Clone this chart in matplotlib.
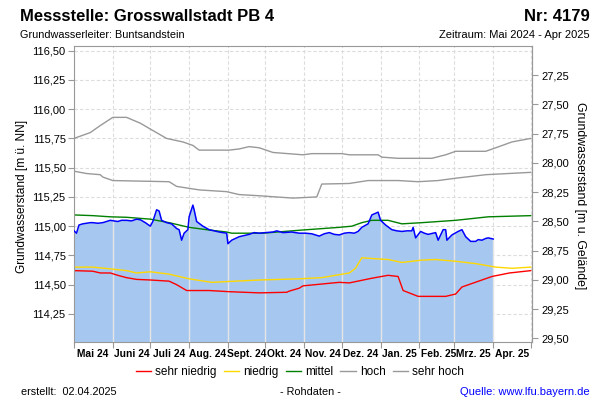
import numpy as np
import pandas as pd
import matplotlib
matplotlib.use('Agg')
import matplotlib.pyplot as plt
import matplotlib.dates as mdates
from matplotlib.ticker import FuncFormatter, FixedLocator
from matplotlib.lines import Line2D

plt.rcParams['font.family'] = ['Liberation Sans', 'DejaVu Sans']

# ground level (m ü. NN) used for the right axis (m u. Gelände)
ground = 143.54

# measured water level (Rohdaten)
level_dates = ['2024-05-01', '2024-05-02', '2024-05-03', '2024-05-05', '2024-05-08', '2024-05-11',
               '2024-05-14', '2024-05-16', '2024-05-20', '2024-05-24', '2024-05-27', '2024-05-30',
               '2024-06-02', '2024-06-05', '2024-06-08', '2024-06-12', '2024-06-16', '2024-06-20',
               '2024-06-23', '2024-06-27', '2024-07-01', '2024-07-03', '2024-07-06', '2024-07-08',
               '2024-07-10', '2024-07-14', '2024-07-18', '2024-07-22', '2024-07-24', '2024-07-26',
               '2024-07-28', '2024-07-31', '2024-08-01', '2024-08-04', '2024-08-05', '2024-08-07',
               '2024-08-12', '2024-08-17', '2024-08-21', '2024-08-25', '2024-08-31', '2024-09-01',
               '2024-09-04', '2024-09-10', '2024-09-14', '2024-09-18', '2024-09-22', '2024-09-26',
               '2024-10-01', '2024-10-07', '2024-10-10', '2024-10-15', '2024-10-22', '2024-10-28',
               '2024-11-02', '2024-11-07', '2024-11-13', '2024-11-17', '2024-11-21', '2024-11-25',
               '2024-11-29', '2024-12-03', '2024-12-07', '2024-12-11', '2024-12-14', '2024-12-17',
               '2024-12-22', '2024-12-25', '2024-12-28', '2024-12-30', '2025-01-01', '2025-01-05',
               '2025-01-10', '2025-01-14', '2025-01-18', '2025-01-22', '2025-01-26', '2025-01-27',
               '2025-01-29', '2025-02-02', '2025-02-05', '2025-02-08', '2025-02-14', '2025-02-16',
               '2025-02-20', '2025-02-22', '2025-02-23', '2025-02-27', '2025-03-04', '2025-03-07',
               '2025-03-10', '2025-03-14', '2025-03-18', '2025-03-20', '2025-03-23', '2025-03-26',
               '2025-03-28', '2025-04-01']
level_values = [114.96, 114.95, 114.94, 115.01, 115.02, 115.025,
                115.03, 115.03, 115.025, 115.03, 115.04, 115.05,
                115.045, 115.04, 115.05, 115.05, 115.045, 115.06,
                115.055, 115.03, 115.00, 115.04, 115.14, 115.13,
                115.05, 115.03, 115.02, 114.98, 114.97, 114.88,
                114.94, 114.97, 115.08, 115.18, 115.14, 115.04,
                115.00, 114.97, 114.96, 114.95, 114.94, 114.85,
                114.88, 114.91, 114.92, 114.93, 114.945, 114.94,
                114.945, 114.95, 114.96, 114.945, 114.95, 114.94,
                114.94, 114.935, 114.915, 114.935, 114.945, 114.93,
                114.925, 114.94, 114.945, 114.94, 114.955, 114.99,
                115.02, 115.096, 115.11, 115.12, 115.05, 115.01,
                114.97, 114.96, 114.955, 114.96, 114.96, 114.99,
                114.90, 114.955, 114.94, 114.93, 114.945, 114.88,
                114.97, 114.97, 114.88, 114.925, 114.955, 114.97,
                114.91, 114.87, 114.87, 114.885, 114.88, 114.895,
                114.90, 114.89]

# reference lines
sehr_hoch_dates = ['2024-05-01', '2024-05-14', '2024-05-22', '2024-06-01', '2024-06-12', '2024-06-23',
                   '2024-07-01', '2024-07-14', '2024-07-27', '2024-08-04', '2024-08-09', '2024-09-02',
                   '2024-09-10', '2024-09-18', '2024-09-26', '2024-10-07', '2024-10-31', '2024-11-07',
                   '2024-12-01', '2024-12-07', '2024-12-30', '2025-01-02', '2025-01-15', '2025-02-11',
                   '2025-02-22', '2025-03-02', '2025-03-26', '2025-04-03', '2025-04-16', '2025-05-01']
sehr_hoch_values = [115.75, 115.80, 115.86, 115.93, 115.93, 115.88,
                    115.83, 115.75, 115.72, 115.69, 115.65, 115.65,
                    115.66, 115.68, 115.67, 115.63, 115.61, 115.62,
                    115.62, 115.61, 115.61, 115.59, 115.58, 115.58,
                    115.61, 115.64, 115.64, 115.67, 115.72, 115.75]

hoch_dates = ['2024-05-01', '2024-05-11', '2024-05-22', '2024-05-24', '2024-06-01', '2024-06-23',
              '2024-07-16', '2024-07-22', '2024-08-09', '2024-08-31', '2024-09-10', '2024-09-26',
              '2024-10-23', '2024-11-11', '2024-11-15', '2024-12-07', '2024-12-22', '2025-01-15',
              '2025-01-31', '2025-02-16', '2025-03-02', '2025-03-26', '2025-05-01']
hoch_values = [115.47, 115.45, 115.44, 115.42, 115.39, 115.385,
               115.38, 115.34, 115.31, 115.295, 115.27, 115.26,
               115.24, 115.25, 115.36, 115.365, 115.39, 115.39,
               115.38, 115.39, 115.41, 115.44, 115.46]

mittel_dates = ['2024-05-01', '2024-05-16', '2024-05-30', '2024-06-12', '2024-07-01', '2024-07-16',
                '2024-08-01', '2024-08-15', '2024-08-31', '2024-09-04', '2024-09-29', '2024-10-28',
                '2024-11-29', '2024-12-09', '2024-12-17', '2024-12-25', '2025-01-07', '2025-01-18',
                '2025-02-03', '2025-03-02', '2025-03-28', '2025-05-01']
mittel_values = [115.096, 115.09, 115.08, 115.076, 115.06, 115.03,
                 114.99, 114.97, 114.95, 114.94, 114.94, 114.965,
                 114.99, 115.00, 115.03, 115.05, 115.05, 115.02,
                 115.03, 115.05, 115.08, 115.09]

niedrig_dates = ['2024-05-01', '2024-05-16', '2024-05-30', '2024-06-12', '2024-06-20', '2024-07-01',
                 '2024-07-16', '2024-07-24', '2024-08-01', '2024-08-19', '2024-09-26', '2024-10-28',
                 '2024-11-15', '2024-12-07', '2024-12-12', '2024-12-17', '2024-12-30', '2025-01-07',
                 '2025-01-18', '2025-02-03', '2025-02-14', '2025-03-02', '2025-03-18', '2025-04-03',
                 '2025-04-16', '2025-05-01']
niedrig_values = [114.65, 114.65, 114.635, 114.62, 114.60, 114.61,
                  114.59, 114.57, 114.55, 114.52, 114.54, 114.55,
                  114.56, 114.60, 114.64, 114.73, 114.72, 114.715,
                  114.69, 114.71, 114.715, 114.70, 114.68, 114.65,
                  114.64, 114.65]

sehr_niedrig_dates = ['2024-05-01', '2024-05-16', '2024-05-22', '2024-05-30', '2024-06-05', '2024-06-12',
                      '2024-06-20', '2024-07-01', '2024-07-16', '2024-07-22', '2024-07-30', '2024-08-09',
                      '2024-08-17', '2024-09-02', '2024-09-26', '2024-10-18', '2024-10-20', '2024-10-28',
                      '2024-10-31', '2024-11-29', '2024-12-07', '2024-12-25', '2025-01-07', '2025-01-15',
                      '2025-01-19', '2025-01-31', '2025-02-22', '2025-03-02', '2025-03-07', '2025-03-23',
                      '2025-03-31', '2025-04-14', '2025-05-01']
sehr_niedrig_values = [114.62, 114.615, 114.60, 114.60, 114.58, 114.56,
                       114.545, 114.54, 114.53, 114.50, 114.45, 114.45,
                       114.45, 114.44, 114.43, 114.435, 114.445, 114.47,
                       114.49, 114.52, 114.515, 114.555, 114.58, 114.57,
                       114.45, 114.40, 114.40, 114.42, 114.48, 114.54,
                       114.57, 114.60, 114.62]

month_labels = ['Mai 24', 'Juni 24', 'Juli 24', 'Aug. 24', 'Sept. 24', 'Okt. 24',
                'Nov. 24', 'Dez. 24', 'Jan. 25', 'Feb. 25', 'Mrz. 25', 'Apr. 25']

gray = '#999999'
grid_col = '#dcdcdc'
y_bottom, y_top = 114.01, 116.54

fig = plt.figure(figsize=(6, 4), dpi=100)
ax = fig.add_axes([74 / 600, 1 - 342 / 400, 458 / 600, 296 / 400])

t = pd.to_datetime(level_dates)
ax.fill_between(t, level_values, y_bottom, color='#a6c8f0', lw=0, zorder=1)

# month boundaries: solid light lines inside the filled area
month_starts = pd.date_range('2024-05-01', '2025-05-01', freq='MS')
t_num = mdates.date2num(t)
for m in month_starts[1:-1]:
    mn = mdates.date2num(m)
    if mn <= t_num[-1]:
        top = np.interp(mn, t_num, level_values)
        ax.plot([m, m], [y_bottom, top], color='#e4e4e4', lw=1, zorder=1.5)

ax.plot(pd.to_datetime(sehr_hoch_dates), sehr_hoch_values, color=gray, lw=1, zorder=2)
ax.plot(pd.to_datetime(hoch_dates), hoch_values, color=gray, lw=1, zorder=2)
ax.plot(pd.to_datetime(mittel_dates), mittel_values, color='#008000', lw=1, zorder=2)
ax.plot(pd.to_datetime(niedrig_dates), niedrig_values, color='#ffd800', lw=1, zorder=2)
ax.plot(pd.to_datetime(sehr_niedrig_dates), sehr_niedrig_values, color='#ff0000', lw=1, zorder=2)
ax.plot(t, level_values, color='#0000ff', lw=1.1, zorder=3)

ax.set_xlim(pd.Timestamp('2024-05-01'), pd.Timestamp('2025-05-02'))
ax.set_ylim(y_bottom, y_top)

ax.set_yticks(np.arange(114.25, 116.51, 0.25))
ax.yaxis.set_major_formatter(FuncFormatter(lambda v, p: f'{v:.2f}'.replace('.', ',')))
ax.xaxis.set_major_locator(FixedLocator(mdates.date2num(month_starts)))
ax.xaxis.set_major_formatter(FuncFormatter(lambda v, p: ''))
mids = [m + pd.Timedelta(days=15) for m in month_starts[:-1]]
ax.set_xticks(mdates.date2num(mids), month_labels, minor=True)
for lab in ax.get_xticklabels(minor=True):
    lab.set_fontweight('bold')
ax.tick_params(axis='x', which='minor', length=0, labelsize=7.4, pad=5)
ax.tick_params(axis='x', which='major', length=4, color=gray)
ax.tick_params(axis='y', length=4, color=gray, labelsize=8, pad=2)

ax.grid(True, which='major', color=grid_col, ls=(0, (3, 2)), lw=0.8, zorder=0)
ax.set_axisbelow(True)
for s in ax.spines.values():
    s.set_color(gray)

sec = ax.secondary_yaxis('right', functions=(lambda y: ground - y, lambda d: ground - d))
sec.set_yticks(np.arange(27.25, 29.51, 0.25))
sec.yaxis.set_major_formatter(FuncFormatter(lambda v, p: f'{v:.2f}'.replace('.', ',')))
sec.tick_params(length=4, color=gray, labelsize=8, pad=3)
sec.spines['right'].set_color(gray)

fig.text(22 / 600, 1 - 196 / 400, 'Grundwasserstand [m ü. NN]', rotation=90,
         ha='center', va='center', fontsize=8.6)
fig.text(580 / 600, 1 - 196 / 400, 'Grundwasserstand [m u. Gelände]', rotation=270,
         ha='center', va='center', fontsize=8.8)

fig.text(20 / 600, 1 - 21 / 400, 'Messstelle: Grosswallstadt PB 4', fontsize=12,
         fontweight='bold', va='baseline')
fig.text(590 / 600, 1 - 21 / 400, 'Nr: 4179', fontsize=12, fontweight='bold',
         ha='right', va='baseline')
fig.text(20 / 600, 1 - 37.5 / 400, 'Grundwasserleiter: Buntsandstein', fontsize=7.8, va='baseline')
fig.text(590 / 600, 1 - 37.5 / 400, 'Zeitraum: Mai 2024 - Apr 2025', fontsize=8,
         ha='right', va='baseline')

handles = [Line2D([], [], color='#ff0000', lw=1), Line2D([], [], color='#ffd800', lw=1),
           Line2D([], [], color='#008000', lw=1), Line2D([], [], color=gray, lw=1),
           Line2D([], [], color=gray, lw=1)]
fig.legend(handles, ['sehr niedrig', 'niedrig', 'mittel', 'hoch', 'sehr hoch'],
           loc='center', bbox_to_anchor=(300 / 600, 1 - 372 / 400), ncol=5, frameon=False,
           fontsize=8.5, handlelength=1.3, handletextpad=0.35, columnspacing=0.6,
           borderpad=0, borderaxespad=0)

fig.text(21 / 600, 1 - 395 / 400, 'erstellt:  02.04.2025', fontsize=7.8, va='baseline')
fig.text(310 / 600, 1 - 395 / 400, '- Rohdaten -', fontsize=7.8, ha='center', va='baseline')
fig.text(590 / 600, 1 - 395 / 400, 'Quelle: www.lfu.bayern.de', fontsize=8, color='#0000ff',
         ha='right', va='baseline')

fig.savefig('out.png', dpi=100)
